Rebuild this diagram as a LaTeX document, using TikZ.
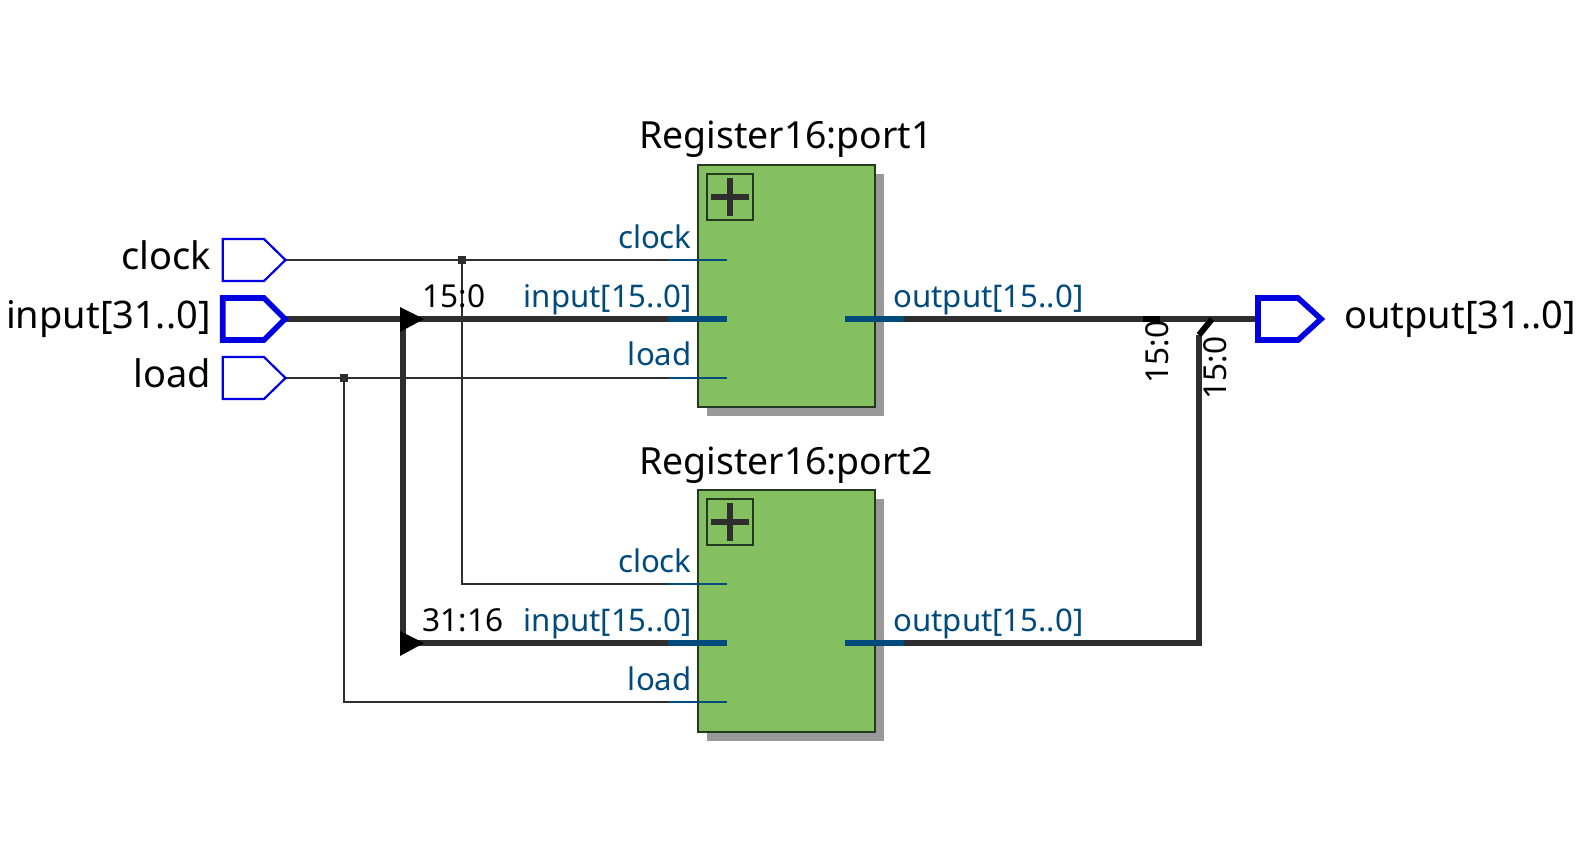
\documentclass[tikz,border=0pt]{standalone}
\usepackage{fontspec}
\setmainfont{Noto Sans}
\definecolor{wirec}{HTML}{2E2E2E}
\definecolor{portc}{HTML}{0000E0}
\definecolor{pinc}{HTML}{004A7C}
\definecolor{boxc}{HTML}{84BF60}
\definecolor{shadowc}{HTML}{999999}
\definecolor{edgec}{HTML}{24391F}
\tikzset{
  thinw/.style={draw=wirec,line width=1pt},
  busw/.style={draw=wirec,line width=3pt},
  pinthin/.style={draw=pinc,line width=1pt},
  pinbus/.style={draw=pinc,line width=3pt},
  tip/.style={fill=black,draw=none},
  portthin/.style={draw=portc,line width=1.1pt,fill=white,line join=miter},
  portbus/.style={draw=portc,line width=2.8pt,fill=white,line join=miter},
  portlab/.style={font=\fontsize{19}{20}\selectfont,text=black,inner sep=0pt},
  pinlab/.style={font=\fontsize{15.6}{18}\selectfont,text=pinc,inner sep=0pt},
  buslab/.style={font=\fontsize{15.8}{18}\selectfont,text=black,inner sep=0pt},
  titlelab/.style={font=\fontsize{18.7}{20}\selectfont,text=black,inner sep=0pt},
  regbox/.style={draw=edgec,line width=1pt,fill=boxc,minimum width=88.5pt,minimum height=121pt,inner sep=0pt,outer sep=0pt},
  shadowbox/.style={fill=shadowc,draw=none,minimum width=88.5pt,minimum height=121pt,inner sep=0pt,outer sep=0pt},
  plusbox/.style={draw=edgec,line width=.8pt,minimum width=23pt,minimum height=23pt,inner sep=0pt,outer sep=0pt},
  junction/.style={fill=wirec,draw=none,minimum size=4pt,inner sep=0pt,outer sep=0pt},
}
\begin{document}
\begin{tikzpicture}[x=0.5pt,y=-0.5pt]
\useasboundingbox (0,0) rectangle (1591,846);
% coordinates
\coordinate (clkT) at (285.5,260);
\coordinate (inT) at (285,319);
\coordinate (ldT) at (285.5,378);
\coordinate (outL) at (1258,319);
\coordinate (busX) at (402.5,319);
\coordinate (busY) at (402.5,643);
\coordinate (tri1) at (415,319);
\coordinate (tri2) at (415,643);
\coordinate (tapTop) at (1212,319);
% shadows
\node[shadowbox] (sh1) at (795.5,295) {};
\node[shadowbox] (sh2) at (795.5,620) {};
% boxes
\node[regbox] (reg1) at (786.5,286) {};
\node[regbox] (reg2) at (786.5,611) {};
% plus icons
\node[plusbox] (plus1) at (730,197) {};
\node[plusbox] (plus2) at (730,522) {};
\foreach \p in {plus1,plus2}{
  \draw[wirec,line width=2.6pt] ([xshift=-9.5pt]\p.center) -- ([xshift=9.5pt]\p.center);
  \draw[wirec,line width=2.6pt] ([yshift=-9.5pt]\p.center) -- ([yshift=9.5pt]\p.center);
}
% pin stubs
\coordinate (c1) at (727,260); \coordinate (i1) at (727,319); \coordinate (l1) at (727,378);
\coordinate (c2) at (727,584); \coordinate (i2) at (727,643); \coordinate (l2) at (727,702);
\coordinate (o1) at (845,319); \coordinate (o2) at (845,643);
\coordinate (j1) at (462,260); \coordinate (j2) at (344,378);
% wires
\draw[thinw] (clkT) -- (c1);
\draw[thinw] (ldT) -- (l1);
\draw[thinw] (j1) |- (c2);
\draw[thinw] (j2) |- (l2);
\draw[busw] (inT) -- (i1);
\draw[busw] (busX) -- (busY);
\draw[busw] (tri2) -- (i2);
\draw[busw] (o1) -- (outL);
\draw[busw,line join=miter] (o2) -| (1199,335);
\draw[black,line width=3pt] (1199,335) -- (tapTop);
\draw[black,line width=3pt] (1143,319) -- (1160,319);
% pin overlays
\draw[pinthin] (668,260) -- (c1); \draw[pinthin] (668,378) -- (l1);
\draw[pinthin] (668,584) -- (c2); \draw[pinthin] (668,702) -- (l2);
\draw[pinbus] (668,319) -- (i1); \draw[pinbus] (668,643) -- (i2);
\draw[pinbus] (o1) -- (904,319); \draw[pinbus] (o2) -- (904,643);
% junctions
\node[junction] (jn1) at (j1) {};
\node[junction] (jn2) at (j2) {};
% rippers
\fill[tip] (400,307) -- (424,319) -- (400,332) -- cycle;
\fill[tip] (400,631) -- (424,643) -- (400,656) -- cycle;
% ports
\draw[portthin] (222.7,239) -- (264,239) -- (clkT) -- (264,281) -- (222.7,281) -- cycle;
\draw[portbus] (222.7,298) -- (264,298) -- (inT) -- (264,340) -- (222.7,340) -- cycle;
\draw[portthin] (222.7,357) -- (264,357) -- (ldT) -- (264,399) -- (222.7,399) -- cycle;
\draw[portbus] (outL) -- (1258,298) -- (1298,298) -- (1321,319) -- (1298,340) -- (1258,340) -- cycle;
% port labels
\node[portlab,anchor=base east] (lclk) at (211.5,269) {clock};
\node[portlab,anchor=base east] (lin) at (211,328) {input[31..0]};
\node[portlab,anchor=base east] (lld) at (211.5,387) {load};
\node[portlab,anchor=base west] (lout) at (1344,328) {output[31..0]};
% titles
\node[titlelab,anchor=base] (t1) at (786,148) {Register16:port1};
\node[titlelab,anchor=base] (t2) at (786,474) {Register16:port2};
% pin labels
\node[pinlab,anchor=base east] at (692,248) {clock};
\node[pinlab,anchor=base east] at (692,307) {input[15..0]};
\node[pinlab,anchor=base east] at (692,365) {load};
\node[pinlab,anchor=base east] at (692,572) {clock};
\node[pinlab,anchor=base east] at (692,631) {input[15..0]};
\node[pinlab,anchor=base east] at (692,690) {load};
\node[pinlab,anchor=base west] at (893,307) {output[15..0]};
\node[pinlab,anchor=base west] at (893,631) {output[15..0]};
% bus labels
\node[buslab,anchor=base west] at (422,307) {15:0};
\node[buslab,anchor=base west] at (422,631) {31:16};
\node[buslab,anchor=base west,rotate=90] at (1168,384) {15:0};
\node[buslab,anchor=base west,rotate=90] at (1226,400) {15:0};
\end{tikzpicture}
\end{document}
